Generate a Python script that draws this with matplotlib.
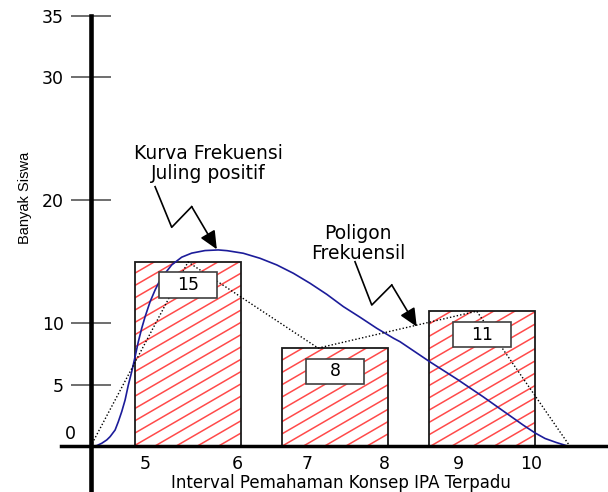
import numpy as np
import matplotlib
matplotlib.use("Agg")
import matplotlib.pyplot as plt
from matplotlib.collections import LineCollection

# frequency per interval (bars)
freq = [15, 8, 11]
bar_left = [0.30, 1.30, 2.30]
bar_width = 0.725

# x tick labels and where they sit
xtick_pos = [0.374, 1.0, 1.476, 2.0, 2.503, 3.0]
xtick_labels = ['5', '6', '7', '8', '9', '10']
ytick_pos = [5, 10, 20, 30, 35]

# frequency polygon vertices
poly_x = [0.0, 0.663, 1.548, 2.627, 3.262]
poly_y = [0, 15, 8, 11, 0]

# skewed frequency curve
curve_x = [0.008, 0.042, 0.076, 0.110, 0.133, 0.167, 0.189, 0.212, 0.235, 0.257,
           0.280, 0.303, 0.325, 0.348, 0.371, 0.405, 0.439, 0.473, 0.507, 0.552,
           0.620, 0.688, 0.779, 0.869, 0.929, 1.039, 1.153, 1.267, 1.380, 1.493,
           1.607, 1.720, 1.833, 1.947, 2.061, 2.105, 2.310, 2.491, 2.672, 2.827,
           2.942, 3.024, 3.092, 3.167, 3.250]
curve_y = [0, 0.07, 0.26, 0.53, 0.80, 1.34, 2.02, 2.83, 3.78, 5.0,
           6.08, 7.3, 8.52, 9.61, 10.55, 11.77, 12.72, 13.54, 14.08, 14.76,
           15.39, 15.72, 15.93, 15.98, 15.92, 15.71, 15.30, 14.76, 14.08, 13.27,
           12.37, 11.37, 10.51, 9.61, 8.80, 8.52, 6.87, 5.49, 4.03, 2.72,
           1.75, 1.10, 0.65, 0.33, 0.02]

kurva_arrow = [(0.439, 21.12), (0.552, 17.82), (0.688, 19.50), (0.859, 16.03)]
poligon_arrow = [(1.799, 15.02), (1.913, 11.50), (2.049, 13.13), (2.219, 9.74)]


def hatch_bar(ax, patch, xlim):
    # slanted red lines clipped to the bar
    slope = 6.93
    segs = []
    for c in np.arange(-40, 40, 1.0):
        segs.append([(xlim[0], c + slope * xlim[0]), (xlim[1], c + slope * xlim[1])])
    lc = LineCollection(segs, colors='#ff4a4a', linewidths=1.1, zorder=2.1)
    ax.add_collection(lc)
    lc.set_clip_path(patch)


def zigzag(ax, pts):
    xs = [p[0] for p in pts[:3]]
    ys = [p[1] for p in pts[:3]]
    ax.plot(xs, ys, color='black', lw=1.2, zorder=5)
    ax.annotate('', xy=pts[3], xytext=pts[2],
                arrowprops=dict(arrowstyle='-|>,head_length=0.55,head_width=0.25',
                                color='black', lw=1.2, mutation_scale=20,
                                shrinkA=0, shrinkB=0), zorder=5)


def main():
    fig = plt.figure(figsize=(6.08, 4.92), dpi=100)
    ax = fig.add_axes([0, 0, 1, 1])
    xlim = (-0.616, 3.520)
    ylim = (-3.70, 36.30)
    ax.set_xlim(*xlim)
    ax.set_ylim(*ylim)

    bars = ax.bar(bar_left, freq, width=bar_width, align='edge',
                  facecolor='white', edgecolor='none', zorder=2)
    for p in bars.patches:
        hatch_bar(ax, p, xlim)
    ax.bar(bar_left, freq, width=bar_width, align='edge', fill=False,
           edgecolor='#1a1a1a', lw=1.3, zorder=2.2)

    ax.plot(curve_x, curve_y, color='#1c1c9a', lw=1.2, zorder=3)
    ax.plot(poly_x, poly_y, color='black', lw=1.0, ls=(0, (1, 1.5)), zorder=3)

    # value boxes
    for left, f in zip(bar_left, freq):
        cx = left + bar_width / 2
        ax.add_patch(plt.Rectangle((cx - 0.197, f - 1.9 - 1.05), 0.394, 2.1,
                                   facecolor='white', edgecolor='#404040',
                                   lw=1.2, zorder=4))
        ax.text(cx, f - 1.9, str(f), ha='center', va='center', fontsize=12.5, zorder=4.5)

    # axes lines
    for s in ['top', 'right']:
        ax.spines[s].set_visible(False)
    ax.spines['left'].set_position(('data', 0))
    ax.spines['bottom'].set_position(('data', 0))
    ax.spines['left'].set_linewidth(3.3)
    ax.spines['bottom'].set_linewidth(2.5)
    ax.spines['left'].set_bounds(ylim[0], 35)
    ax.spines['bottom'].set_bounds(-0.2, xlim[1])
    ax.spines['left'].set_zorder(6)
    ax.spines['bottom'].set_zorder(6)

    ax.set_yticks(ytick_pos)
    ax.set_yticklabels([str(v) for v in ytick_pos])
    ax.tick_params(axis='y', direction='inout', length=29.5, width=1.2,
                   color='#555555', pad=4.3, labelsize=12.5)
    ax.set_xticks(xtick_pos)
    ax.set_xticklabels(xtick_labels)
    ax.tick_params(axis='x', length=0, pad=6, labelsize=12.5)

    ax.text(-0.139, 1.02, '0', ha='center', va='center', fontsize=12.5)

    ax.text(-0.446, 20.2, 'Banyak Siswa', rotation=90, ha='center', va='center',
            fontsize=10.5, family=['Liberation Sans', 'DejaVu Sans'])
    ax.text(1.704, -2.97, 'Interval Pemahaman Konsep IPA Terpadu',
            ha='center', va='center', fontsize=12)

    ax.text(0.799, 23.0, 'Kurva Frekuensi\nJuling positif', ha='center',
            va='center', fontsize=13.5, linespacing=1.05)
    ax.text(1.820, 16.5, 'Poligon\nFrekuensil', ha='center', va='center',
            fontsize=13.5, linespacing=1.05)
    zigzag(ax, kurva_arrow)
    zigzag(ax, poligon_arrow)

    fig.savefig('out.png', dpi=100)


if __name__ == "__main__":
    main()
